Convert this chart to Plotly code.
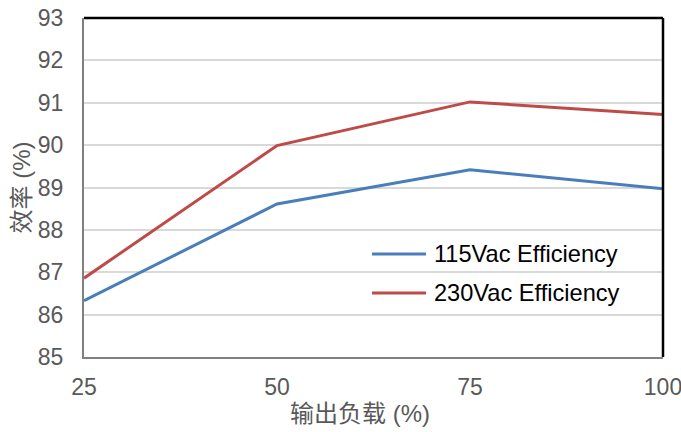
import plotly.graph_objects as go

# Output load (%) and efficiency (%) for both input voltages
load_pct = [25, 50, 75, 100]
eff_115vac = [86.33, 88.61, 89.42, 88.97]
eff_230vac = [86.86, 89.99, 91.02, 90.72]
series_names = ["115Vac Efficiency", "230Vac Efficiency"]
series_colors = ["#4a7ebb", "#be4b48"]
x_ticks = [25, 50, 75, 100]
y_ticks = [85, 86, 87, 88, 89, 90, 91, 92, 93]
x_title = "输出负载 (%)"
y_title = "效率 (%)"

FONT = "Liberation Sans, Arial, Noto Sans CJK SC, sans-serif"
GREY_TEXT = "#595959"

fig = go.Figure()
for name, vals, col in zip(series_names, [eff_115vac, eff_230vac], series_colors):
    fig.add_trace(go.Scatter(x=load_pct, y=vals, mode="lines", name=name,
                             line=dict(color=col, width=3), showlegend=False))

# In-plot legend: short line sample followed by the series name
legend_rows_y = [0.3038, 0.1888]
shapes = []
annotations = []
for name, col, ly in zip(series_names, series_colors, legend_rows_y):
    shapes.append(dict(type="line", xref="paper", yref="paper",
                       x0=0.4974, x1=0.5907, y0=ly, y1=ly,
                       line=dict(color=col, width=3)))
    annotations.append(dict(text=name, xref="paper", yref="paper", x=0.601, y=ly,
                            xanchor="left", yanchor="middle", showarrow=False,
                            font=dict(size=23.6, color="#000000", family=FONT)))

# Frame: dark top and right edges
shapes += [
    dict(type="line", xref="paper", yref="paper", x0=0, x1=1, y0=1, y1=1,
         line=dict(color="#000000", width=2.5)),
    dict(type="line", xref="paper", yref="paper", x0=1, x1=1, y0=0, y1=1,
         line=dict(color="#000000", width=2.5)),
]

# Axis titles
annotations += [
    dict(text=x_title, xref="paper", yref="paper", x=0.4767, y=-0.168,
         xanchor="center", yanchor="middle", showarrow=False,
         font=dict(size=24, color=GREY_TEXT, family=FONT)),
    dict(text=y_title, xref="paper", yref="paper", x=-0.1088, y=0.5,
         xanchor="center", yanchor="middle", textangle=-90, showarrow=False,
         font=dict(size=24, color=GREY_TEXT, family=FONT)),
]

fig.update_layout(
    width=681, height=432,
    margin=dict(l=84, r=18, t=18, b=75),
    paper_bgcolor="white", plot_bgcolor="white",
    font=dict(family=FONT, size=23, color=GREY_TEXT),
    showlegend=False,
    xaxis=dict(range=[25, 100], tickvals=x_ticks, showgrid=False, zeroline=False,
               showline=True, linecolor="#808080", linewidth=2,
               ticks="outside", ticklen=8, tickcolor="rgba(0,0,0,0)",
               ticklabeloverflow="allow",
               automargin=False, tickfont=dict(size=23, color=GREY_TEXT)),
    yaxis=dict(range=[85, 93], tickvals=y_ticks, showgrid=True, gridcolor="#d9d9d9", gridwidth=1.5,
               zeroline=False, showline=True, linecolor="#808080", linewidth=2,
               ticks="outside", ticklen=14, tickcolor="rgba(0,0,0,0)",
               ticklabeloverflow="allow",
               automargin=False, tickfont=dict(size=23, color=GREY_TEXT)),
    shapes=shapes,
    annotations=annotations,
)

fig.write_html("out.html")
